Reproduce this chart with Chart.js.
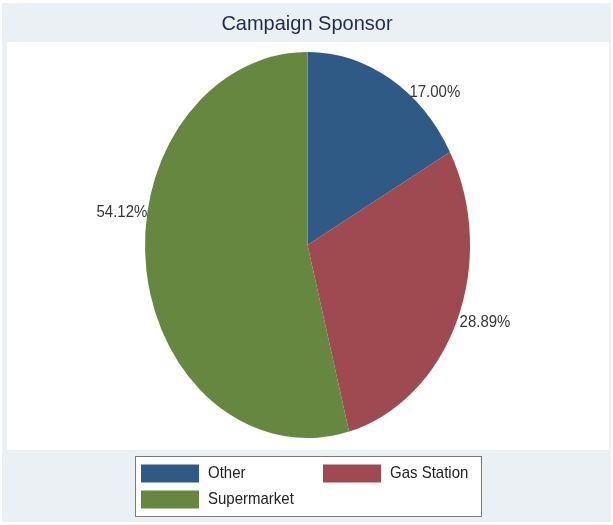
<!DOCTYPE html>
<html>
<head>
<meta charset="utf-8">
<title>Campaign Sponsor</title>
<script src="https://cdn.jsdelivr.net/npm/chart.js@4.4.1/dist/chart.umd.min.js"></script>
<style>
  html, body { margin: 0; padding: 0; background: #ffffff; }
  #wrap { width: 613px; height: 525px; position: relative; }
  canvas { display: block; }
</style>
</head>
<body>
<div id="wrap"><canvas id="pie" width="613" height="525"></canvas></div>
<script>
// Sponsor categories and their share of campaigns (percent)
const categories = ['Other', 'Gas Station', 'Supermarket'];
const shares = [17.00, 28.89, 54.12];
const sliceColors = ['#2e5a85', '#9e4a50', '#66873f'];
const chartTitle = 'Campaign Sponsor';

// Layout of the graph region
const FONT = '"Liberation Sans", Arial, Helvetica, sans-serif';
const OUTER_BG = '#eaf0f3';
const PLOT = { left: 7, top: 42, right: 609, bottom: 450 };
const PIE_STRETCH = 193 / 162.5;      // pie is drawn as an upright ellipse
const TEXT_STRETCH = 1.13;            // label glyphs are slightly tall
const LABEL_GAP = 3;
// small angular shifts (degrees) moving each percent label along the rim
const labelShiftDeg = [6.9, 0.3, 17.2];

function stretchedText(ctx, text, x, y, font, color, align, stretch) {
  ctx.save();
  ctx.font = font;
  ctx.fillStyle = color;
  ctx.textAlign = align;
  ctx.textBaseline = 'middle';
  ctx.translate(x, y);
  ctx.scale(1, stretch);
  ctx.fillText(text, 0, 0);
  ctx.restore();
}

// Grey outer region and white plot region
const backdrop = {
  id: 'backdrop',
  beforeDraw(chart) {
    const ctx = chart.ctx;
    ctx.save();
    ctx.fillStyle = '#ffffff';
    ctx.fillRect(0, 0, chart.width, chart.height);
    ctx.fillStyle = OUTER_BG;
    ctx.fillRect(2, 3, chart.width - 4, chart.height - 6);
    ctx.fillStyle = '#ffffff';
    ctx.fillRect(PLOT.left, PLOT.top, PLOT.right - PLOT.left, PLOT.bottom - PLOT.top);
    ctx.restore();
  }
};

// Stretch the pie vertically about its centre
const ellipse = {
  id: 'ellipse',
  beforeDatasetsDraw(chart) {
    const arc = chart.getDatasetMeta(0).data[0];
    const ctx = chart.ctx;
    ctx.save();
    ctx.translate(arc.x, arc.y);
    ctx.scale(1, PIE_STRETCH);
    ctx.translate(-arc.x, -arc.y);
  },
  afterDatasetsDraw(chart) {
    chart.ctx.restore();
  }
};

// Percent labels on the rim, title and boxed legend
const annotations = {
  id: 'annotations',
  afterDraw(chart) {
    const ctx = chart.ctx;
    const meta = chart.getDatasetMeta(0);
    const values = chart.data.datasets[0].data;
    const labelFont = '15px ' + FONT;

    meta.data.forEach((arc, i) => {
      const mid = (arc.startAngle + arc.endAngle) / 2 + labelShiftDeg[i] * Math.PI / 180;
      const r = arc.outerRadius;
      const px = arc.x + r * Math.cos(mid);
      const py = arc.y + r * PIE_STRETCH * Math.sin(mid);
      const right = Math.cos(mid) >= 0;
      const text = values[i].toFixed(2) + '%';
      stretchedText(ctx, text, right ? px + LABEL_GAP : px,
        py, labelFont, '#363636', right ? 'left' : 'right', TEXT_STRETCH);
    });

    // title
    stretchedText(ctx, chartTitle, 307, 24, '20px ' + FONT, '#1e2b4c', 'center', 1.02);

    // legend
    const box = { left: 135, top: 456, right: 482, bottom: 517 };
    ctx.save();
    ctx.fillStyle = '#ffffff';
    ctx.fillRect(box.left, box.top, box.right - box.left, box.bottom - box.top);
    ctx.strokeStyle = '#7a7a7a';
    ctx.lineWidth = 1;
    ctx.strokeRect(box.left + 0.5, box.top + 0.5, box.right - box.left - 1, box.bottom - box.top - 1);
    ctx.restore();

    const colX = [141, 323];
    const rowY = [473.5, 499.5];
    const colors = chart.data.datasets[0].backgroundColor;
    chart.data.labels.forEach((name, i) => {
      const x = colX[i % 2];
      const y = rowY[Math.floor(i / 2)];
      ctx.fillStyle = colors[i];
      ctx.fillRect(x, y - 9, 58, 18);
      stretchedText(ctx, name, x + 67, y, '15px ' + FONT, '#222222', 'left', TEXT_STRETCH);
    });
  }
};

new Chart(document.getElementById('pie'), {
  type: 'pie',
  data: {
    labels: categories,
    datasets: [{
      data: shares,
      backgroundColor: sliceColors,
      borderWidth: 0,
      hoverBorderWidth: 0,
      hoverOffset: 0
    }]
  },
  options: {
    responsive: false,
    animation: false,
    radius: 162.5,
    layout: { padding: { top: 82.5, bottom: 117.5, left: 2, right: 0 } },
    plugins: {
      legend: { display: false },
      title: { display: false },
      tooltip: { enabled: false }
    },
    events: []
  },
  plugins: [backdrop, ellipse, annotations]
});
</script>
</body>
</html>
